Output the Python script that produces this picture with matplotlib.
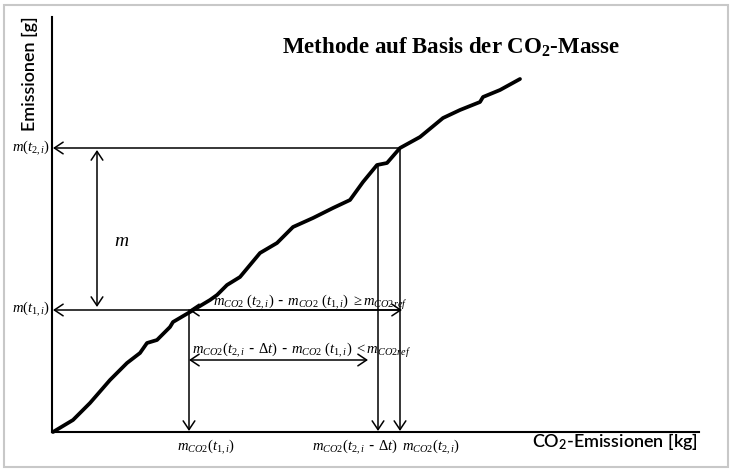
import numpy as np
import matplotlib
matplotlib.use("Agg")
import matplotlib.pyplot as plt
from matplotlib.patches import Rectangle

plt.rcParams['mathtext.fontset'] = 'custom'
plt.rcParams['mathtext.rm'] = 'Liberation Serif'
plt.rcParams['mathtext.it'] = 'Liberation Serif:italic'
plt.rcParams['mathtext.bf'] = 'Liberation Serif:bold'
plt.rcParams['mathtext.sf'] = 'Lato:semibold'

# Kurve: CO2-Emissionen [kg] vs. Emissionen [g] (schematisch)
co2 = [1, 21, 38, 58, 75, 88, 95, 105, 118, 121, 138, 158, 165, 175, 188, 208,
       225, 241, 261, 281, 298, 311, 325, 335, 348, 368, 391, 408, 428, 431, 448, 468]
emis = [0, 12, 29, 52, 69, 79, 89, 92, 105, 110, 120, 132, 137, 147, 155, 179,
        189, 205, 214, 224, 232, 250, 267, 269, 284, 295, 314, 322, 330, 335, 342, 353]

# markierte Punkte
x_t1 = 137      # mCO2(t1,i)
x_t2dt = 326    # mCO2(t2,i - dt)
x_t2 = 348      # mCO2(t2,i)
m_t1 = 122      # m(t1,i)
m_t2 = 284      # m(t2,i)
y_t2dt = 267
x_end = 647
y_end = 415

fig = plt.figure(figsize=(7.33, 4.71), dpi=100)
ax = fig.add_axes([0, 0, 1, 1])
ax.set_xlim(-52, 681)
ax.set_ylim(-39, 432)
ax.axis('off')

# Rahmen
fig.patches.append(Rectangle((4/733, 4/471), 724/733, 462/471, transform=fig.transFigure,
                             fill=False, edgecolor='#c8c8c8', lw=1.5))

ax.plot([0, 0], [0, y_end], color='black', lw=1.5)
ax.plot([0, x_end], [0, 0], color='black', lw=1.5)
ax.plot(co2, emis, color='black', lw=2.7, solid_capstyle='round', solid_joinstyle='round')

arr = dict(arrowstyle="->,head_length=0.45,head_width=0.3", lw=1.1, color='black',
           mutation_scale=14, shrinkA=0, shrinkB=0)
arr2 = dict(arr, arrowstyle="<->,head_length=0.45,head_width=0.3")

def arrow(x0, y0, x1, y1, style=arr):
    ax.annotate("", xy=(x1, y1), xytext=(x0, y0), arrowprops=style)

arrow(x_t2, m_t2, 1, m_t2)
arrow(x_t2, m_t1, 1, m_t1)
arrow(x_t1, m_t1, x_t1, 1)
arrow(x_t2dt, y_t2dt, x_t2dt, 1)
arrow(x_t2, m_t2, x_t2, 1)
arrow(45, m_t2 - 2, 45, m_t1 + 3, arr2)
arrow(x_t1, m_t1, x_t2 + 2, m_t1, arr2)
arrow(x_t1, 72, 316, 72, arr2)

ax.text(399, 385, r"Methode auf Basis der CO$_\mathbf{2}$-Masse", family='Liberation Serif',
        weight='bold', fontsize=16.5, ha='center', va='center')
ax.text(646, -10, r"CO$_\mathsf{2}$-Emissionen [kg]", family='Lato', weight='semibold',
        fontsize=13, ha='right', va='center')
ax.text(-22, 358, "Emissionen [g]", family='Lato', weight='semibold', fontsize=13,
        rotation=90, ha='center', va='center')

ax.text(-2, m_t2, r"$m(t_{2,i})$", fontsize=10.5, ha='right', va='center')
ax.text(-2, m_t1 + 1, r"$m(t_{1,i})$", fontsize=10.5, ha='right', va='center')
ax.text(70, 192, r"$m$", fontsize=14, ha='center', va='center')

ax.text(125, -15, r"$m_{CO2}(t_{1,i})$", fontsize=10.5, ha='left', va='center')
ax.text(260, -15, r"$m_{CO2}(t_{2,i}$ - $\mathit{Δ}t)$", fontsize=10.5, ha='left', va='center')
ax.text(350, -15, r"$m_{CO2}(t_{2,i})$", fontsize=10.5, ha='left', va='center')

ax.text(161, 130, r"$m_{CO2}\ (t_{2,i})$ - $m_{CO2}\ (t_{1,i})\ {\geq}m_{CO2ref}$",
        fontsize=10.5, ha='left', va='center')
ax.text(140, 82, r"$m_{CO2}(t_{2,i}$ - $\mathit{Δ}t)$ - $m_{CO2}\ (t_{1,i})\ {<}m_{CO2ref}$",
        fontsize=10.5, ha='left', va='center')

fig.savefig("out.png", dpi=100)
